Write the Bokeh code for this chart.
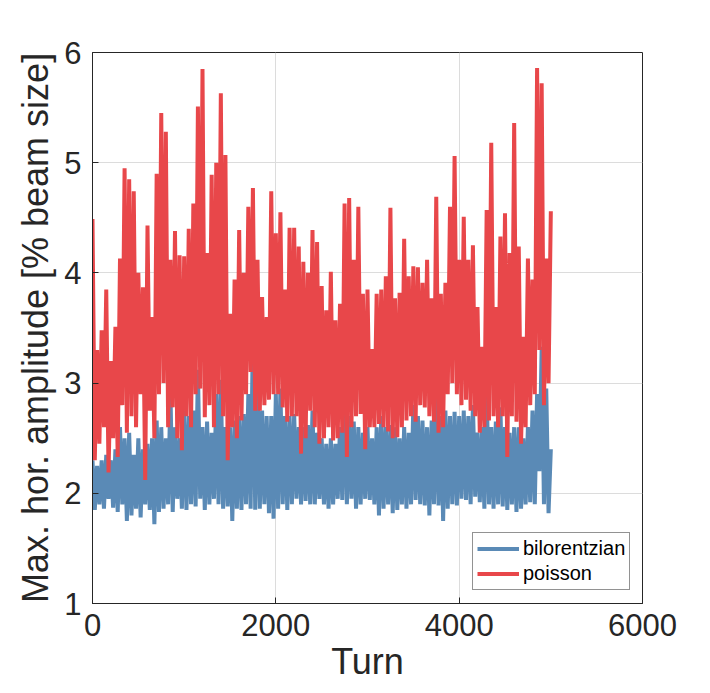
from bokeh.plotting import figure
from bokeh.models import FixedTicker, Legend, LegendItem
from bokeh.embed import file_html
from bokeh.resources import INLINE

# ---- data (turn step 25; alternating peaks / dips) ----
turn_step = 25
poisson_peaks = [4.49, 3.3, 3.48, 3.85, 3.2, 3.51, 4.13, 4.95, 4.85, 4.74,
                 4.0, 3.87, 4.43, 3.6, 4.9, 5.45, 5.28, 4.12, 4.38, 4.16,
                 4.15, 4.4, 4.63, 5.51, 5.85, 4.18, 4.89, 5.0, 5.63, 5.07,
                 3.63, 3.94, 4.39, 4.0, 4.6, 4.77, 4.12, 3.78, 3.6, 4.74,
                 4.36, 4.55, 3.85, 4.41, 4.41, 4.24, 4.10, 4.0, 4.39, 4.28,
                 3.88, 3.66, 4.01, 3.57, 3.72, 4.63, 4.68, 4.12, 4.6, 3.81,
                 3.85, 3.31, 3.81, 3.85, 3.97, 4.59, 3.77, 3.82, 4.31, 3.97,
                 4.06, 4.05, 3.91, 4.12, 3.77, 4.69, 3.81, 3.91, 4.6, 5.06,
                 4.12, 4.51, 4.12, 4.25, 3.69, 3.33, 4.57, 5.18, 3.69, 4.33,
                 4.54, 4.18, 5.36, 4.24, 3.42, 4.13, 3.94, 5.86, 5.72, 4.13,
                 4.56]
poisson_dips = [2.3, 2.45, 2.6, 2.19, 2.5, 2.33, 2.8, 2.55, 2.7, 2.6,
                2.9, 2.12, 2.75, 2.5, 2.9, 3.0, 2.6, 2.78, 2.5, 2.39,
                2.7, 2.6, 2.9, 2.95, 2.69, 2.8, 2.6, 2.9, 2.7, 2.30,
                2.6, 2.5, 2.66, 2.9, 3.1, 2.75, 2.75, 2.8, 2.85, 2.9,
                2.9, 2.78, 2.65, 2.7, 2.7, 2.36, 2.5, 2.75, 2.6, 2.45,
                2.5, 2.6, 2.48, 2.5, 2.55, 2.33, 2.6, 2.7, 2.72, 2.4,
                2.6, 2.6, 2.63, 2.6, 2.56, 2.5, 2.51, 2.6, 2.66, 2.7,
                2.65, 2.8, 2.78, 2.7, 2.65, 2.55, 2.6, 2.9, 3.0, 2.9,
                2.8, 2.85, 2.75, 2.7, 2.55, 2.6, 2.66, 2.7, 2.6, 2.7,
                2.33, 2.7, 2.65, 2.45, 2.6, 2.8, 2.9, 3.3, 2.8, 3.0]
bilor_peaks = [2.3, 2.25, 2.3, 2.35, 2.3, 2.4, 2.6, 2.5, 2.55, 2.35,
               2.5, 2.4, 2.45, 2.5, 2.66, 2.6, 2.5, 2.94, 2.6, 2.5,
               2.75, 2.7, 2.75, 3.12, 2.6, 2.65, 2.55, 2.9, 3.03, 2.6,
               2.6, 2.66, 2.7, 2.72, 2.9, 3.5, 3.0, 2.75, 2.7, 2.7,
               2.9, 2.95, 2.7, 2.7, 2.72, 2.6, 2.6, 2.62, 2.75, 2.55,
               2.5, 2.45, 2.5, 2.45, 2.6, 3.03, 2.7, 2.65, 2.6, 2.55,
               2.6, 2.5, 2.6, 2.7, 2.6, 2.62, 2.6, 2.5, 2.6, 2.55,
               2.8, 2.7, 2.66, 2.6, 2.66, 2.88, 2.7, 2.75, 2.7, 2.74,
               2.7, 2.75, 2.7, 2.8, 2.55, 2.6, 2.97, 2.6, 2.65, 2.78,
               2.6, 2.55, 2.6, 2.6, 2.5, 2.6, 2.75, 2.9, 3.33, 2.95,
               2.4]
bilor_dips = [1.85, 1.9, 1.86, 1.95, 1.87, 1.83, 1.9, 1.75, 1.8, 1.86,
              1.78, 1.9, 1.85, 1.72, 1.83, 1.86, 1.9, 1.83, 1.95, 1.86,
              1.85, 1.9, 1.88, 1.95, 1.85, 1.9, 1.95, 1.9, 1.86, 1.88,
              1.75, 1.86, 1.85, 1.9, 1.86, 1.85, 1.86, 1.9, 1.82, 1.77,
              1.86, 1.9, 1.85, 1.9, 1.95, 1.9, 1.93, 1.9, 1.9, 1.95,
              1.9, 1.86, 1.9, 1.95, 1.94, 1.9, 1.95, 1.86, 1.9, 1.95,
              1.94, 1.9, 1.8, 1.86, 1.9, 1.82, 1.85, 1.9, 1.86, 1.9,
              1.94, 1.9, 1.89, 1.8, 1.9, 1.89, 1.75, 1.86, 1.9, 1.89,
              1.95, 1.94, 1.9, 1.97, 1.92, 1.86, 1.9, 1.86, 1.9, 1.88,
              1.85, 1.9, 1.83, 1.86, 1.9, 1.92, 1.9, 2.2, 1.9, 1.82]
x_ticks = [0, 2000, 4000, 6000]
y_ticks = [1, 2, 3, 4, 5, 6]
series_names = ["bilorentzian", "poisson"]
colors = ["#5a8ab6", "#e8474a"]


def interleave(peaks, dips):
    out = []
    for i, v in enumerate(peaks):
        out.append(v)
        if i < len(dips):
            out.append(dips[i])
    return out


red = interleave(poisson_peaks, poisson_dips)
blue = interleave(bilor_peaks, bilor_dips)
turns_r = [i * turn_step for i in range(len(red))]
turns_b = [i * turn_step for i in range(len(blue))]

FONT = "Liberation Sans"
TXT = "#262626"

p = figure(frame_width=550, frame_height=551, x_range=(0, 6000), y_range=(1, 6),
           output_backend="svg", toolbar_location=None,
           min_border_left=92, min_border_top=52, min_border_right=60, min_border_bottom=84,
           background_fill_color="white", border_fill_color="white")

p.outline_line_color = TXT
p.outline_line_width = 1

p.xaxis.ticker = FixedTicker(ticks=x_ticks)
p.yaxis.ticker = FixedTicker(ticks=y_ticks)
for ax in (p.xaxis[0], p.yaxis[0]):
    ax.axis_line_color = TXT
    ax.major_tick_line_color = TXT
    ax.major_tick_in = 6
    ax.major_tick_out = 0
    ax.minor_tick_line_color = None
    ax.major_label_text_font = FONT
    ax.major_label_text_font_size = "31px"
    ax.major_label_text_color = TXT
    ax.axis_label_text_font = FONT
    ax.axis_label_text_font_size = "36px"
    ax.axis_label_text_font_style = "normal"
    ax.axis_label_text_color = TXT

p.xaxis.axis_label = "Turn"
p.yaxis.axis_label = "Max. hor. amplitude [% beam size]"
p.xaxis.major_label_standoff = 10
p.xaxis.axis_label_standoff = 2
p.yaxis.major_label_standoff = 11
p.yaxis.axis_label_standoff = 5

p.xgrid.grid_line_color = "#dcdcdc"
p.ygrid.grid_line_color = "#dcdcdc"
p.xgrid.ticker = FixedTicker(ticks=x_ticks)
p.ygrid.ticker = FixedTicker(ticks=y_ticks)

rb = p.line(turns_b, blue, line_color=colors[0], line_width=4)
rr = p.line(turns_r, red, line_color=colors[1], line_width=4)

legend = Legend(items=[LegendItem(label=series_names[0], renderers=[rb]),
                       LegendItem(label=series_names[1], renderers=[rr])],
                location=(380, 13))
legend.label_text_font = FONT
legend.label_text_font_size = "20px"
legend.label_text_color = "black"
legend.border_line_color = TXT
legend.border_line_width = 1
legend.background_fill_color = "white"
legend.background_fill_alpha = 1
legend.glyph_width = 42
legend.glyph_height = 21
legend.label_height = 21
legend.label_standoff = 4
legend.spacing = 2
legend.padding = 4
legend.margin = 0
p.add_layout(legend, "center")

open("out.html", "w").write(file_html(p, INLINE))
